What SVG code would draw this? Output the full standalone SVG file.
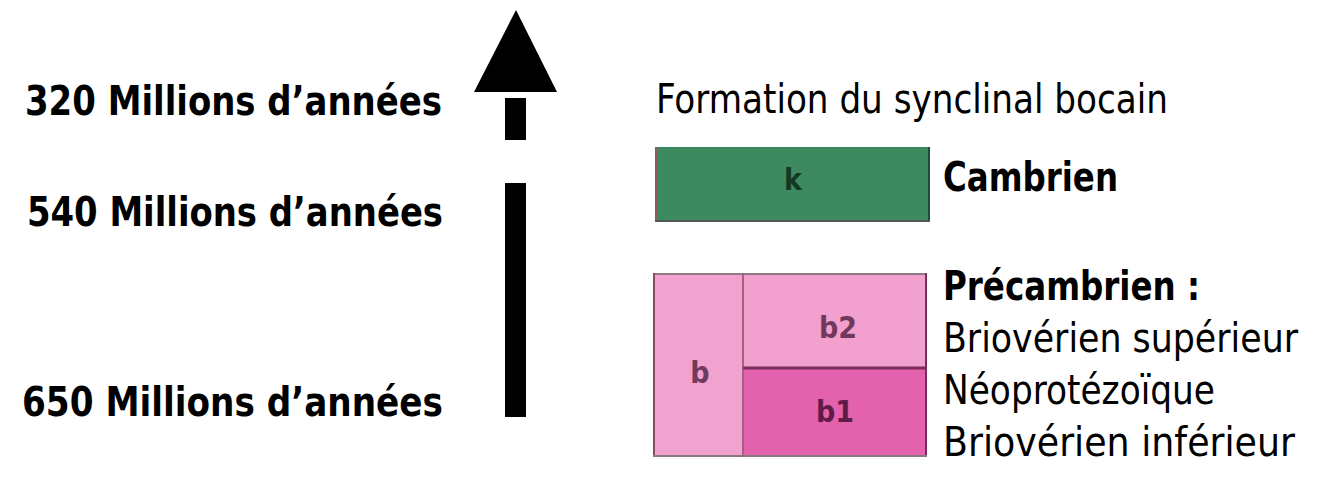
<svg xmlns="http://www.w3.org/2000/svg" width="1319" height="484" viewBox="0 0 1319 484">
<style>
.age{font-family:"DejaVu Sans Condensed","DejaVu Sans",sans-serif;font-stretch:condensed;font-weight:bold;font-size:41px;fill:#000}
.lbl{font-family:"DejaVu Sans Condensed","DejaVu Sans",sans-serif;font-stretch:condensed;font-size:41px;fill:#000}
.lblb{font-family:"DejaVu Sans Condensed","DejaVu Sans",sans-serif;font-stretch:condensed;font-weight:bold;font-size:41px;fill:#000}
.cell{font-family:"DejaVu Sans Condensed","DejaVu Sans",sans-serif;font-weight:bold;font-size:30px;text-anchor:middle;opacity:0.85}
</style>
<rect width="1319" height="484" fill="#fff"/>
<g id="ages">
<text class="age" x="25" y="115" textLength="417" lengthAdjust="spacingAndGlyphs">320 Millions d’années</text>
<text class="age" x="27" y="226" textLength="416" lengthAdjust="spacingAndGlyphs">540 Millions d’années</text>
<text class="age" x="22" y="416" textLength="421" lengthAdjust="spacingAndGlyphs">650 Millions d’années</text>
</g>
<g id="arrow">
<polygon points="516,10 474,92 557,92" fill="#000"/>
<rect x="505" y="98" width="21" height="42" fill="#000"/>
<rect x="505" y="183" width="21" height="234" fill="#000"/>
</g>
<g id="title">
<text class="lbl" x="656" y="113" textLength="512" lengthAdjust="spacingAndGlyphs">Formation du synclinal bocain</text>
</g>
<g id="cambrien">
<rect x="655" y="147" width="275" height="75" fill="#3e8a60"/>
<line x1="656" y1="147" x2="656" y2="222" stroke="#8a5a60" stroke-width="2"/>
<line x1="929" y1="147" x2="929" y2="222" stroke="#1d4f33" stroke-width="2"/>
<line x1="655" y1="221" x2="930" y2="221" stroke="#4f5a52" stroke-width="2"/>
<text class="cell" x="793" y="190" fill="#0c2a1a">k</text>
<text class="lblb" x="943" y="191" textLength="175" lengthAdjust="spacingAndGlyphs">Cambrien</text>
</g>
<g id="precambrien">
<rect x="653" y="273" width="90" height="184" fill="#f2a2cf"/>
<rect x="743" y="273" width="184" height="95" fill="#f2a0cd"/>
<rect x="743" y="368" width="184" height="89" fill="#e262ad"/>
<line x1="653" y1="274" x2="927" y2="274" stroke="#8f7a86" stroke-width="2"/>
<line x1="654" y1="273" x2="654" y2="457" stroke="#8a4a62" stroke-width="2"/>
<line x1="926" y1="273" x2="926" y2="457" stroke="#7a2c5c" stroke-width="2"/>
<line x1="653" y1="456" x2="927" y2="456" stroke="#8a7a84" stroke-width="2"/>
<line x1="743" y1="273" x2="743" y2="457" stroke="#a4607f" stroke-width="2"/>
<line x1="743" y1="368" x2="927" y2="368" stroke="#7a2c5c" stroke-width="3"/>
<text class="cell" x="700" y="383" fill="#5a2848">b</text>
<text class="cell" x="838" y="338" fill="#5a2848">b2</text>
<text class="cell" x="835" y="422" fill="#4a1038">b1</text>
<text class="lblb" x="943" y="300" textLength="257" lengthAdjust="spacingAndGlyphs">Précambrien :</text>
<text class="lbl" x="943" y="352" textLength="355" lengthAdjust="spacingAndGlyphs">Briovérien supérieur</text>
<text class="lbl" x="943" y="404" textLength="272" lengthAdjust="spacingAndGlyphs">Néoprotézoïque</text>
<text class="lbl" x="943" y="456" textLength="352" lengthAdjust="spacingAndGlyphs">Briovérien inférieur</text>
</g>
</svg>
